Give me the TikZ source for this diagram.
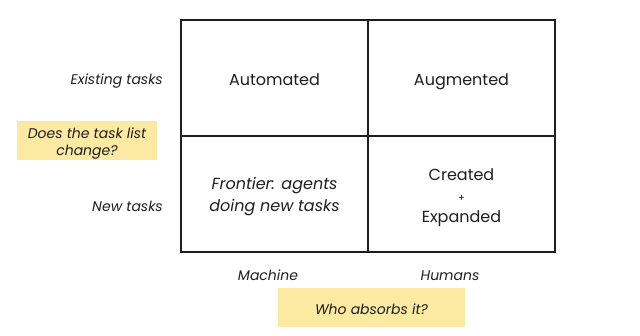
\documentclass[tikz,border=0pt]{standalone}
\usepackage{fontspec}
\setmainfont{Poppins}
\usetikzlibrary{positioning}
\definecolor{notebg}{RGB}{252,234,163}
\definecolor{inkgray}{RGB}{30,30,30}
\tikzset{
  cell/.style={draw=inkgray, line width=1.1pt, minimum width=187pt, minimum height=116pt, inner sep=0pt},
  celltext/.style={align=center, font=\fontsize{16}{22}\selectfont, text=inkgray, inner sep=0pt, yshift=-3pt},
  axislabel/.style={font=\fontsize{14}{17}\selectfont\itshape, text=inkgray, inner sep=0pt},
  notebox/.style={fill=notebg, align=center, font=\fontsize{14}{17}\selectfont\itshape, text=inkgray, inner sep=0pt}
}
\begin{document}
\begin{tikzpicture}[x=1pt, y=-1pt]
\useasboundingbox (0,0) rectangle (640,335);
% grid
\node[cell] (automated) at (274.5,78) {};
\node[cell] (augmented) at (461.5,78) {};
\node[cell] (frontier) at (274.5,194) {};
\node[cell] (created) at (461.5,194) {};
\node[celltext] (automatedtext) at (automated) {\strut Automated};
\node[celltext] (augmentedtext) at (augmented) {\strut Augmented};
\node[celltext] (frontiertext) at (frontier) {\itshape Frontier: agents\\\itshape doing new tasks};
\node[celltext, yshift=-1pt] (createdtext) at (created) {Created\\[-1pt]{\fontsize{10}{10}\selectfont +}\\[-1pt]Expanded};
% axes
\node[axislabel, anchor=east] (existing) at (163,81) {Existing tasks};
\node[axislabel, anchor=east] (newtasks) at (163,206) {New tasks};
\node[axislabel] (machine) at (268,275.5) {Machine};
\node[axislabel] (humans) at (450,275.5) {Humans};
% notes
\node[notebox, minimum width=140pt, minimum height=39pt] (tasklist) at (87,140.5) {};
\node[axislabel, align=center] (tasklisttext) at ([yshift=-3pt]tasklist.center) {Does the task list\\change?};
\node[notebox, minimum width=187pt, minimum height=39pt] (absorbs) at (371.5,307.5) {};
\node[axislabel] (absorbstext) at ([yshift=-2pt]absorbs.center) {Who absorbs it?};
\end{tikzpicture}
\end{document}
